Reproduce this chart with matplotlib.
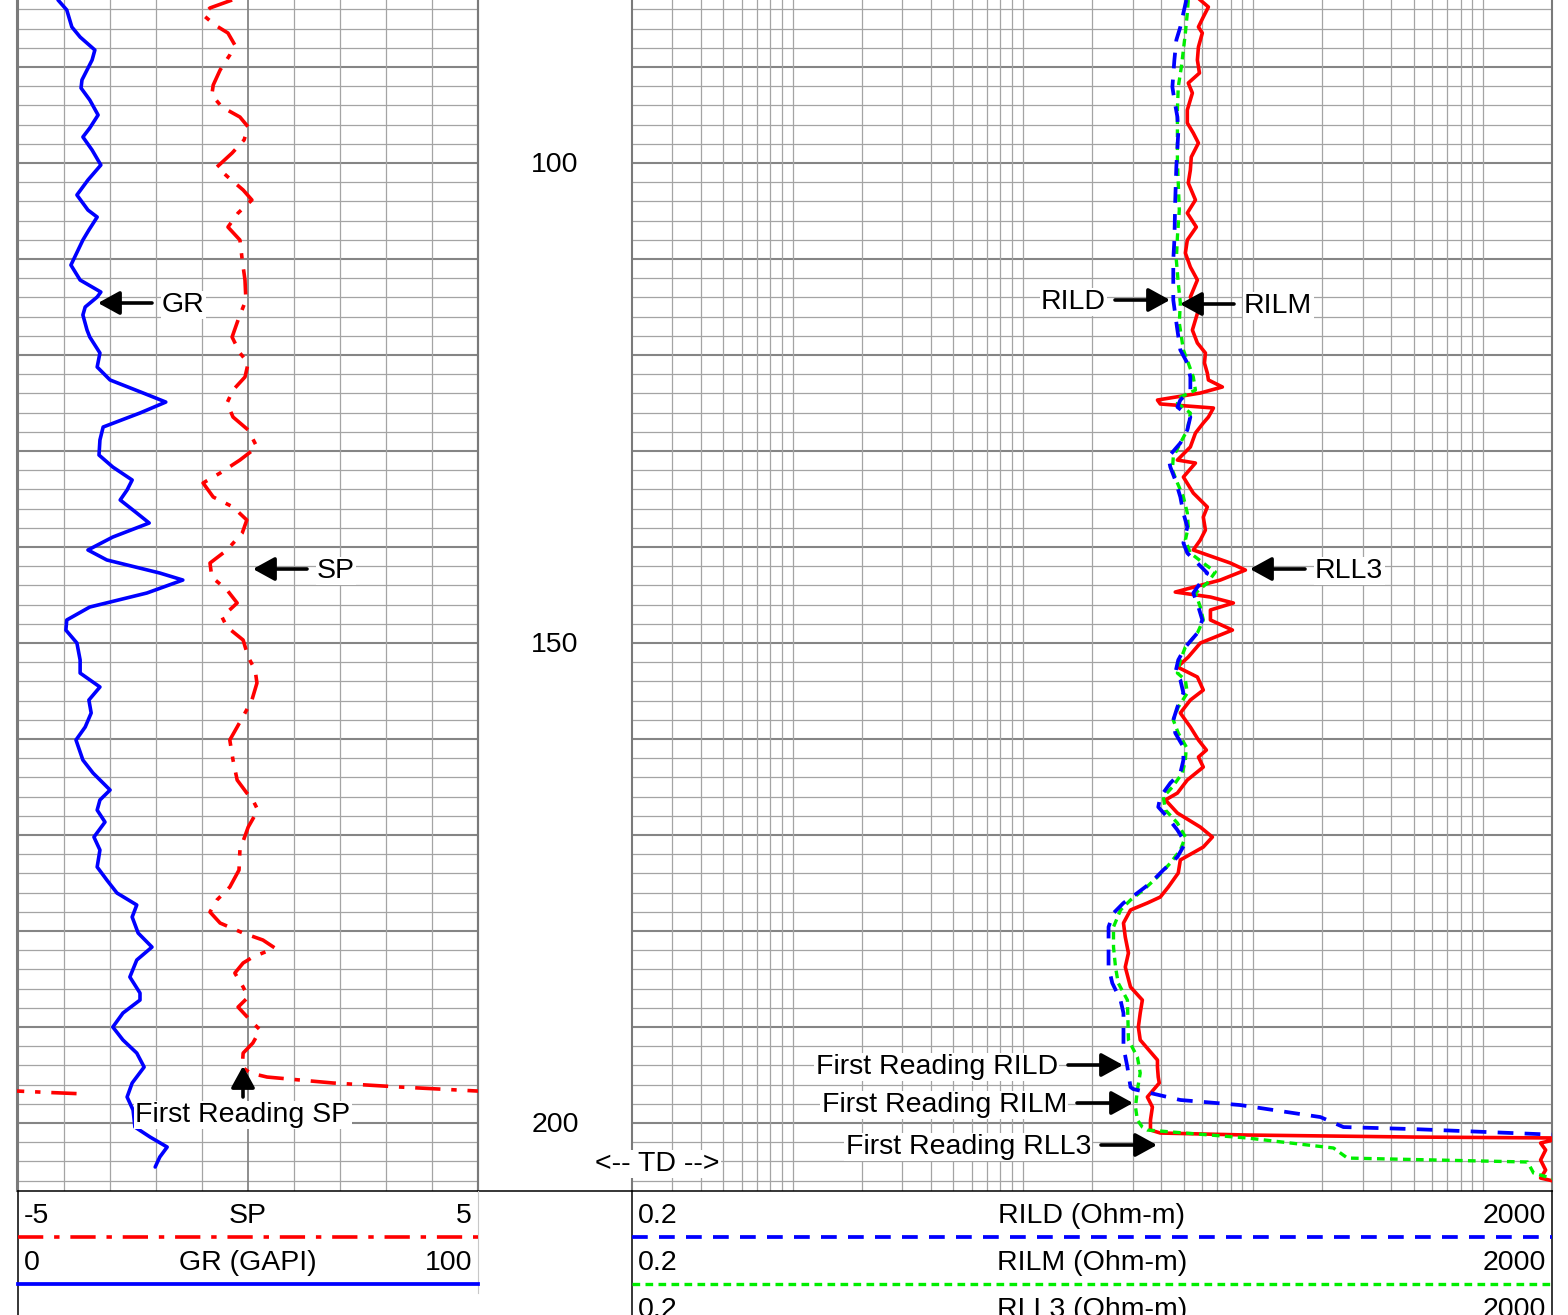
import numpy as np
import matplotlib
matplotlib.use("Agg")
import matplotlib.pyplot as plt
from matplotlib.lines import Line2D
from matplotlib.patches import FancyArrowPatch
from matplotlib import transforms

plt.rcParams['font.family'] = ['Liberation Sans', 'DejaVu Sans']

# ---- curves (depth, value) ----
gr_depth = [83.02, 84.06, 85.83, 86.88, 88.23, 89.27, 91.35, 92.19, 93.44, 95.0,
            96.35, 97.29, 98.65, 100.21, 101.77, 103.33, 104.9, 105.63, 106.98, 108.02,
            110.63, 112.19, 113.44, 113.96, 115.0, 115.83, 117.4, 118.13, 119.79, 121.25,
            122.6, 123.96, 124.9, 126.04, 127.5, 128.85, 130.42, 131.67, 133.02, 134.06,
            135.1, 136.46, 137.5, 138.96, 140.31, 141.35, 142.71, 143.44, 144.79, 146.25,
            147.6, 148.65, 150.0, 151.77, 153.13, 154.58, 155.94, 157.29, 158.75, 160.1,
            162.19, 163.54, 165.31, 166.35, 167.4, 168.65, 170.21, 171.56, 173.33, 174.69,
            176.04, 177.29, 178.54, 180.21, 181.67, 183.02, 184.79, 186.46, 187.19, 188.54,
            190.0, 191.35, 192.71, 194.17, 195.83, 197.29, 198.65, 200.42, 201.46, 202.5,
            203.54, 204.58]
gr_val = [8.8, 10.7, 11.8, 13.6, 16.8, 16.2, 14.0, 13.8, 15.7, 17.5,
          15.7, 14.2, 16.2, 18.1, 15.3, 12.9, 15.3, 17.3, 15.5, 14.2,
          11.6, 13.6, 18.1, 17.3, 14.7, 14.2, 15.1, 15.7, 17.9, 17.3,
          20.1, 27.3, 32.2, 26.6, 18.6, 17.9, 17.7, 20.7, 24.9, 23.8,
          22.3, 25.9, 28.6, 20.7, 15.3, 19.4, 30.9, 35.9, 28.1, 15.7,
          10.7, 10.5, 12.9, 13.6, 13.6, 17.9, 15.5, 16.0, 14.7, 12.7,
          14.2, 16.4, 20.1, 17.9, 17.3, 19.0, 16.6, 17.9, 17.3, 19.4,
          21.6, 25.9, 24.9, 26.2, 29.2, 25.9, 24.4, 26.6, 26.6, 22.9,
          20.7, 22.9, 25.9, 27.5, 24.9, 23.8, 25.1, 25.5, 28.8, 32.5,
          30.9, 29.9]

sp_depth = [83.02, 83.85, 84.58, 85.63, 86.46, 87.71, 88.75, 90.31, 91.88, 92.92,
            94.17, 95.21, 96.25, 97.6, 98.96, 100.42, 101.46, 102.81, 103.85, 105.21,
            106.67, 108.02, 110.1, 112.19, 114.27, 116.35, 118.13, 119.79, 120.83, 122.29,
            123.65, 125.0, 126.46, 127.81, 129.58, 130.94, 132.29, 133.33, 134.79, 135.83,
            137.19, 138.54, 140.31, 141.67, 143.13, 144.48, 145.83, 147.29, 148.33, 149.69,
            151.46, 152.81, 154.17, 155.94, 157.29, 158.75, 160.1, 162.19, 164.27, 165.63,
            166.35, 167.4, 169.17, 171.56, 173.65, 175.42, 176.77, 178.02, 179.17, 180.21,
            180.94, 181.77, 182.71, 183.33, 184.38, 185.83, 186.88, 187.92, 189.27, 190.31,
            191.67, 192.71, 194.17, 194.79, 195.21, 195.83, 196.25, 196.67, 196.82, 196.98]
sp_val = [-0.34, -0.82, -0.97, -0.71, -0.43, -0.28, -0.39, -0.60, -0.75, -0.78,
          -0.56, -0.17, 0.01, -0.08, -0.34, -0.67, -0.43, -0.10, 0.09, -0.21,
          -0.43, -0.17, -0.12, -0.06, -0.04, -0.21, -0.34, -0.17, 0.01, -0.06,
          -0.32, -0.45, -0.32, 0.01, 0.20, -0.17, -0.60, -0.97, -0.75, -0.32,
          -0.02, -0.12, -0.45, -0.82, -0.78, -0.45, -0.23, -0.56, -0.45, -0.10,
          0.01, 0.16, 0.20, 0.09, -0.06, -0.23, -0.39, -0.32, -0.23, -0.02,
          0.11, 0.22, 0.01, -0.17, -0.19, -0.39, -0.67, -0.82, -0.60, -0.10,
          0.33, 0.59, 0.11, -0.10, -0.28, -0.10, 0.01, -0.21, 0.05, 0.27,
          0.11, -0.10, -0.12, 0.05, 0.42, 1.85, 3.31, 5.00, 5.70, 6.51]

rild_depth = [83.02, 84.38, 85.83, 87.19, 89.27, 92.08, 93.44, 95.21, 96.88, 100.42,
              103.85, 108.02, 110.1, 114.27, 117.4, 119.48, 120.83, 122.29, 123.65, 124.69,
              125.42, 126.46, 127.81, 129.17, 130.63, 131.67, 133.02, 134.79, 136.46, 137.92,
              139.58, 140.63, 141.67, 142.71, 143.75, 144.79, 146.25, 147.6, 148.96, 150.42,
              151.77, 153.13, 153.85, 155.21, 156.67, 158.02, 159.38, 160.83, 162.19, 163.54,
              164.58, 166.04, 167.08, 168.13, 169.48, 170.83, 172.29, 173.65, 175.0, 176.04,
              177.08, 178.13, 179.58, 181.67, 183.75, 185.42, 187.19, 188.54, 192.08, 194.17,
              196.25, 196.46, 197.6, 198.13, 199.38, 200.42, 200.63, 201.25]
rild_val = [51.4, 49.9, 48.4, 46.5, 45.6, 44.7, 45.6, 47.0, 47.4, 46.5,
            46.0, 45.6, 45.1, 45.1, 47.0, 48.4, 51.9, 53.5, 53.5, 48.4,
            47.0, 53.5, 51.9, 48.4, 42.9, 43.8, 46.0, 48.4, 49.9, 51.9,
            49.9, 51.9, 57.4, 63.4, 59.1, 55.1, 58.0, 60.3, 57.4, 50.9,
            47.4, 46.0, 48.4, 49.9, 47.0, 45.1, 46.0, 49.9, 49.9, 48.4,
            43.8, 39.6, 38.8, 42.5, 47.0, 50.9, 47.0, 40.8, 35.9, 31.5,
            27.4, 24.8, 23.6, 23.6, 23.6, 24.5, 26.6, 27.4, 27.4, 28.5,
            29.4, 30.2, 48.4, 88.3, 196.6, 247.5, 499.0, 2200.0]

rilm_depth = [83.02, 84.38, 86.46, 88.23, 90.0, 92.08, 94.48, 99.69, 102.08, 104.9,
              107.71, 110.1, 112.5, 114.58, 116.67, 119.48, 120.83, 122.29, 123.65, 124.38,
              125.0, 126.04, 127.81, 129.17, 130.63, 131.98, 133.33, 134.79, 136.46, 137.92,
              139.27, 140.63, 141.67, 142.6, 143.75, 144.79, 146.25, 147.6, 148.96, 150.42,
              151.77, 153.13, 153.85, 155.21, 156.67, 158.02, 159.38, 160.83, 162.19, 163.54,
              165.0, 166.04, 167.4, 168.75, 170.21, 171.56, 172.92, 174.38, 175.73, 176.77,
              177.81, 179.58, 181.67, 183.75, 185.42, 187.19, 191.35, 193.13, 194.79, 196.56,
              198.33, 199.69, 200.42, 200.73, 201.56, 202.6, 203.65, 204.06, 205.21, 205.73,
              206.04]
rilm_val = [52.4, 51.9, 50.9, 49.9, 48.9, 47.4, 47.0, 47.0, 47.4, 47.9,
            47.0, 46.5, 47.4, 48.4, 47.9, 49.9, 52.4, 55.1, 56.3, 48.4,
            47.0, 53.5, 51.9, 48.4, 45.1, 44.7, 47.0, 49.9, 51.9, 52.4,
            50.9, 53.5, 60.9, 68.7, 63.4, 56.3, 59.1, 60.9, 57.4, 50.9,
            48.4, 47.0, 50.9, 51.9, 47.4, 45.1, 47.4, 51.4, 50.9, 49.4,
            44.7, 40.8, 41.7, 47.0, 50.9, 48.4, 43.8, 38.5, 33.4, 29.4,
            26.6, 24.8, 24.8, 25.3, 26.0, 28.5, 28.8, 31.5, 32.4, 31.5,
            30.9, 31.5, 33.1, 34.8, 94.7, 224.0, 257.6, 1562.0, 1658.0, 1966.0,
            2200.0]

rll3_depth = [83.02, 83.75, 84.79, 85.83, 86.46, 87.92, 89.27, 90.63, 91.67, 92.71,
              94.48, 95.83, 96.88, 97.92, 99.38, 100.73, 102.08, 103.85, 105.21, 106.67,
              108.02, 109.38, 110.83, 112.19, 113.96, 115.31, 117.4, 118.75, 119.79, 120.83,
              121.88, 122.6, 123.33, 123.96, 124.69, 125.1, 125.52, 126.46, 127.08, 128.13,
              129.58, 130.94, 131.25, 132.71, 134.38, 135.83, 136.88, 138.23, 139.27, 140.31,
              141.67, 142.4, 143.44, 144.69, 145.21, 145.83, 146.56, 147.6, 148.65, 150.0,
              151.46, 152.5, 153.54, 154.9, 155.94, 157.29, 158.75, 160.1, 161.15, 161.88,
              162.92, 164.27, 165.63, 166.35, 167.71, 169.17, 170.21, 171.25, 172.6, 173.96,
              175.42, 176.46, 177.08, 177.81, 179.17, 180.63, 182.29, 183.75, 185.83, 187.19,
              188.54, 190.0, 191.35, 193.44, 194.17, 195.21, 195.83, 197.29, 198.33, 199.69,
              200.73, 201.04, 201.25, 201.46, 201.56, 202.08, 202.81, 203.85, 204.9, 205.73,
              206.25]
rll3_val = [59.1, 64.1, 60.9, 58.0, 60.3, 58.0, 57.4, 58.6, 52.4, 54.6,
            51.9, 51.9, 55.1, 58.0, 54.0, 53.5, 52.4, 56.3, 51.9, 56.8,
            51.9, 50.9, 53.5, 57.4, 53.5, 58.0, 54.6, 57.4, 62.2, 61.6,
            63.4, 64.1, 73.7, 59.1, 38.5, 39.6, 67.4, 64.1, 60.9, 56.3,
            53.5, 47.0, 56.3, 49.9, 55.1, 63.4, 60.9, 62.2, 59.1, 55.1,
            79.9, 92.8, 72.2, 46.0, 65.4, 82.3, 65.4, 65.4, 81.5, 59.1,
            52.4, 47.0, 57.4, 60.9, 53.5, 48.4, 53.5, 58.0, 62.8, 58.0,
            60.9, 51.9, 47.0, 41.7, 47.0, 59.1, 66.7, 60.9, 48.4, 47.4,
            42.9, 39.6, 34.8, 29.4, 27.4, 27.9, 28.8, 27.9, 29.4, 33.1,
            32.4, 31.8, 32.4, 38.5, 38.5, 38.8, 39.2, 34.8, 36.6, 35.9,
            35.9, 39.6, 94.7, 499.0, 2200.0, 1779.0, 1871.0, 1779.0, 1871.0, 1779.0,
            2200.0]

depth_labels = [100, 150, 200]

# ---- layout helpers (pixel -> figure fraction) ----
W, H = 1568, 1315
def fx(px):
    return px / W
def fy(py):
    return 1 - py / H

fig = plt.figure(figsize=(W / 100, H / 100), dpi=100)

top_depth, bot_depth = 83.02, 207.08
ax_gr = fig.add_axes([fx(17.5), fy(1191), (478 - 17.5) / W, 1191 / H])
ax_sp = ax_gr.twiny()
ax_res = fig.add_axes([fx(631.7), fy(1191), (1552.3 - 631.7) / W, 1191 / H])

minor_c = '#a4a4a4'
major_c = '#858585'

for ax in (ax_gr, ax_res):
    ax.set_ylim(bot_depth, top_depth)
    for d in np.arange(84, 208, 2):
        if d % 10 == 0:
            ax.axhline(d, color=major_c, lw=1.5, zorder=0)
        else:
            ax.axhline(d, color=minor_c, lw=0.9, zorder=0)

ax_gr.set_xlim(0, 100)
ax_sp.set_xlim(-5, 5)
ax_sp.set_ylim(bot_depth, top_depth)
for g in np.arange(10, 100, 10):
    ax_gr.axvline(g, color=major_c if g == 50 else minor_c,
                  lw=1.3 if g == 50 else 0.9, zorder=0)

ax_res.set_xscale('log')
ax_res.set_xlim(0.2, 2000)
log_lines = []
for dec in [0.1, 1, 10, 100, 1000]:
    for m in range(1, 10):
        v = m * dec
        if 0.2 <= v <= 2000:
            log_lines.append(v)
for v in log_lines[1:-1]:
    ax_res.axvline(v, color=minor_c, lw=0.9, zorder=0)

for ax in (ax_gr, ax_sp, ax_res):
    ax.tick_params(which='both', bottom=False, top=False, left=False, right=False,
                   labelbottom=False, labeltop=False, labelleft=False, labelright=False)
    ax.xaxis.set_minor_locator(matplotlib.ticker.NullLocator())
    for s in ax.spines.values():
        s.set_color('#7a7a7a')
        s.set_linewidth(1.5)
    ax.spines['top'].set_visible(False)
    ax.spines['bottom'].set_visible(False)
ax_sp.patch.set_visible(False)

# curves
ax_gr.plot(gr_val, gr_depth, color='#0000ff', lw=2.6, zorder=3,
           solid_joinstyle='round', solid_capstyle='round')
ax_sp.plot(sp_val, sp_depth, color='#ff0000', lw=2.6, dashes=(7, 3, 1.5, 3), zorder=3)
ax_sp.plot(np.array(sp_val) - 10, sp_depth, color='#ff0000', lw=2.6,
           dashes=(7, 3, 1.5, 3), zorder=3)

ax_res.plot(rll3_val, rll3_depth, color='#ff0000', lw=2.6, zorder=3,
            solid_joinstyle='round')
ax_res.plot(rilm_val, rilm_depth, color='#00ee00', lw=2.4, dashes=(2.3, 1.6), zorder=4)
ax_res.plot(rild_val, rild_depth, color='#0000ff', lw=2.7, dashes=(4.2, 3.0), zorder=5)

TXT = 20.5
DY = 2  # small baseline nudge so text sits like the reference

# depth labels
trans = transforms.blended_transform_factory(fig.transFigure, ax_res.transData)
for d in depth_labels:
    ax_res.text(fx(555), d + DY / 9.6, str(d), transform=trans, ha='center', va='center',
                fontsize=TXT, clip_on=False)

box = dict(facecolor='white', edgecolor='none', pad=1)
fig.text(fx(657), fy(1162 + DY), '<-- TD -->', ha='center', va='center', fontsize=TXT,
         bbox=box, zorder=5)

# ---- header ----
def hline(x0, x1, y, **kw):
    fig.add_artist(Line2D([fx(x0), fx(x1)], [fy(y), fy(y)], **kw))

def vline(x, y0, y1, **kw):
    fig.add_artist(Line2D([fx(x), fx(x)], [fy(y0), fy(y1)], **kw))

hline(17.5, 1552.3, 1191, color='k', lw=1.1)
vline(17.5, 1191, 1315, color='k', lw=1.1)
vline(631.7, 1191, 1315, color='k', lw=1.1)
vline(1552.3, 1191, 1315, color='k', lw=1.1)
vline(478, 1191, 1293, color='#c8c8c8', lw=0.8)

def header_row(x0, x1, y, lo, name, hi):
    fig.text(fx(x0 + 6), fy(y + DY), lo, ha='left', va='center', fontsize=TXT)
    fig.text(fx((x0 + x1) / 2), fy(y + DY), name, ha='center', va='center', fontsize=TXT)
    fig.text(fx(x1 - 6), fy(y + DY), hi, ha='right', va='center', fontsize=TXT)

header_row(17.5, 478, 1214, '-5', 'SP', '5')
hline(17.5, 478, 1237, color='#ff0000', lw=2.6, dashes=(7, 3, 1.5, 3))
header_row(17.5, 478, 1261, '0', 'GR (GAPI)', '100')
hline(17.5, 478, 1284, color='#0000ff', lw=2.7)

header_row(631.7, 1552.3, 1214, '0.2', 'RILD (Ohm-m)', '2000')
hline(631.7, 1552.3, 1237, color='#0000ff', lw=2.7, dashes=(4.2, 3.0))
header_row(631.7, 1552.3, 1261, '0.2', 'RILM (Ohm-m)', '2000')
hline(631.7, 1552.3, 1284, color='#00ee00', lw=2.4, dashes=(2.3, 1.6))
header_row(631.7, 1552.3, 1308, '0.2', 'RLL3 (Ohm-m)', '2000')

# ---- annotations ----
def arrow(tail, tip):
    fig.add_artist(FancyArrowPatch(posA=(fx(tail[0]), fy(tail[1])),
                                   posB=(fx(tip[0]), fy(tip[1])),
                                   transform=fig.transFigure,
                                   arrowstyle='-|>,head_length=0.6,head_width=0.33',
                                   mutation_scale=22, lw=2.6, color='k',
                                   shrinkA=0, shrinkB=0, zorder=6))

def label(x, y, s, ha):
    fig.text(fx(x), fy(y + DY), s, ha=ha, va='center', fontsize=TXT, bbox=box, zorder=5)

label(162, 303, 'GR', 'left')
arrow((152, 303), (98, 303))
label(317, 569, 'SP', 'left')
arrow((307, 569), (253, 569))
label(243, 1113, 'First Reading SP', 'center')
arrow((243, 1097), (243, 1066))

label(1106, 300, 'RILD', 'right')
arrow((1115, 300), (1170, 300))
label(1244, 304, 'RILM', 'left')
arrow((1234, 304), (1180, 304))
label(1315, 569, 'RLL3', 'left')
arrow((1305, 569), (1250, 569))

label(1058, 1065, 'First Reading RILD', 'right')
arrow((1068, 1065), (1123, 1065))
label(1067, 1103, 'First Reading RILM', 'right')
arrow((1077, 1103), (1133, 1103))
label(1091, 1145, 'First Reading RLL3', 'right')
arrow((1101, 1145), (1157, 1145))

fig.savefig('out.png', dpi=100)
